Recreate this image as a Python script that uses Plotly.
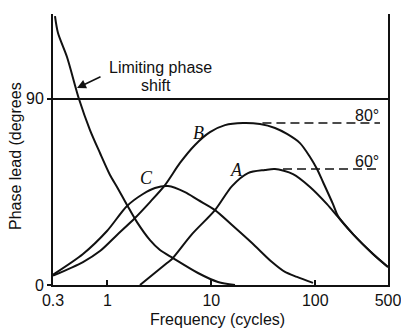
import plotly.graph_objects as go
import math

# ---- data (frequency in cycles, phase lead in degrees) ----
lim_f = [0.3135, 0.3351, 0.409, 0.5334, 0.6807, 0.8493, 1.060, 1.238, 1.545, 1.927, 2.570, 3.207, 4.278, 7.44, 11.58, 16.88]
lim_v = [130.0, 121.8, 110.2, 89.9, 74.9, 63.8, 53.2, 47.4, 38.7, 30.4, 21.7, 16.9, 13.0, 5.8, 1.45, 0.0]

c_f = [0.3, 0.583, 0.9917, 1.545, 2.201, 2.871, 3.83, 5.579, 7.44, 10.84, 15.80, 24.6, 38.3, 51.1, 66.6, 95.0]
c_v = [5.0, 15.0, 26.1, 38.2, 44.0, 46.9, 47.8, 44.9, 41.1, 36.2, 29.0, 20.3, 11.1, 6.3, 3.9, 1.0]

b_f = [0.3, 0.583, 0.849, 1.238, 1.844, 2.570, 3.583, 4.995, 6.961, 9.70, 13.53, 20.16, 29.37, 40.94, 53.4, 71.2, 88.9, 103.8, 118.5, 147.9, 165.2, 230.3, 358.5, 500]
b_v = [4.5, 11.1, 16.4, 24.2, 32.4, 40.1, 48.3, 59.0, 67.7, 73.9, 77.3, 78.3, 77.8, 75.9, 73.0, 68.6, 61.9, 56.1, 49.8, 39.1, 33.3, 24.6, 15.0, 8.7]

a_f = [2.06, 3.745, 4.183, 6.515, 10.84, 15.80, 22.52, 32.80, 40.9, 61.0, 88.86, 129.5, 165.2, 230.3, 358.5, 500]
a_v = [0.0, 10.6, 12.6, 24.6, 36.2, 47.8, 54.1, 55.6, 56.1, 53.6, 47.4, 39.1, 32.9, 24.6, 15.0, 8.7]

dash80_f = [31.0, 418.7]
dash80_v = [78.3, 78.3]
dash60_f = [48.9, 418.7]
dash60_v = [56.1, 56.1]

x_ticks = [0.3, 1, 10, 100, 500]
x_tick_text = ["0.3", "1", "10", "100", "500"]
y_ticks = [0, 90]
y_tick_text = ["0", "90"]

INK = "#111111"
SANS = "Liberation Sans, Arial, sans-serif"
SERIF = "Liberation Serif, Times New Roman, serif"

fig = go.Figure()
for fx, fy in [(lim_f, lim_v), (c_f, c_v), (b_f, b_v), (a_f, a_v)]:
    fig.add_trace(go.Scatter(x=fx, y=fy, mode="lines",
                             line=dict(color=INK, width=2, shape="spline", smoothing=0.8),
                             hoverinfo="skip", showlegend=False))
for fx, fy in [(dash80_f, dash80_v), (dash60_f, dash60_v)]:
    fig.add_trace(go.Scatter(x=fx, y=fy, mode="lines",
                             line=dict(color=INK, width=1.5, dash="9px,5px"),
                             hoverinfo="skip", showlegend=False))

fig.update_xaxes(type="log", range=[math.log10(0.3), math.log10(500)],
                 tickvals=x_ticks, ticktext=x_tick_text,
                 automargin=False, ticklabeloverflow="allow",
                 ticks="inside", ticklen=5, tickwidth=1.5, tickcolor=INK,
                 showline=True, linecolor=INK, linewidth=2, mirror=False,
                 showgrid=False, zeroline=False,
                 tickfont=dict(family=SANS, size=16, color=INK))
fig.update_yaxes(range=[0, 131], tickvals=y_ticks, ticktext=y_tick_text,
                 automargin=False,
                 ticks="outside", ticklen=4, tickwidth=1.5, tickcolor=INK,
                 showline=True, linecolor=INK, linewidth=2, mirror=True,
                 showgrid=True, gridcolor=INK, gridwidth=1.5, zeroline=False,
                 tickfont=dict(family=SANS, size=16, color=INK))

ann = []
def ptxt(text, x, y, size=16, family=SANS, angle=0):
    ann.append(dict(text=text, xref="paper", yref="paper", x=x, y=y,
                    xanchor="center", yanchor="middle", showarrow=False,
                    textangle=angle, font=dict(family=family, size=size, color=INK)))

ptxt("Limiting phase", 0.3209, 0.8044)
ptxt("shift", 0.3075, 0.738)
ptxt("80°", 0.9373, 0.6273)
ptxt("60°", 0.9373, 0.4539)
ptxt("<i>B</i>", 0.4358, 0.5609, size=18, family=SERIF)
ptxt("<i>A</i>", 0.5483, 0.4244, size=18, family=SERIF)
ptxt("<i>C</i>", 0.2797, 0.3937, size=18, family=SERIF)
ptxt("Frequency (cycles)", 0.4896, -0.129)
ptxt("Phase lead (degrees", -0.1134, 0.476, angle=-90)

ann.append(dict(text="", x=math.log10(0.5104), y=95.2, xref="x", yref="y",
                showarrow=True, ax=25, ay=-12, arrowhead=2, arrowsize=1.2,
                arrowwidth=1.5, arrowcolor=INK))
fig.update_layout(annotations=ann)

fig.update_layout(width=401, height=328, autosize=False,
                  margin=dict(l=53, r=13, t=14, b=43, pad=0),
                  paper_bgcolor="white", plot_bgcolor="white")

fig.write_html("out.html", config={"displayModeBar": False},
               post_script="document.body.style.margin='0';document.body.style.overflow='hidden';")
